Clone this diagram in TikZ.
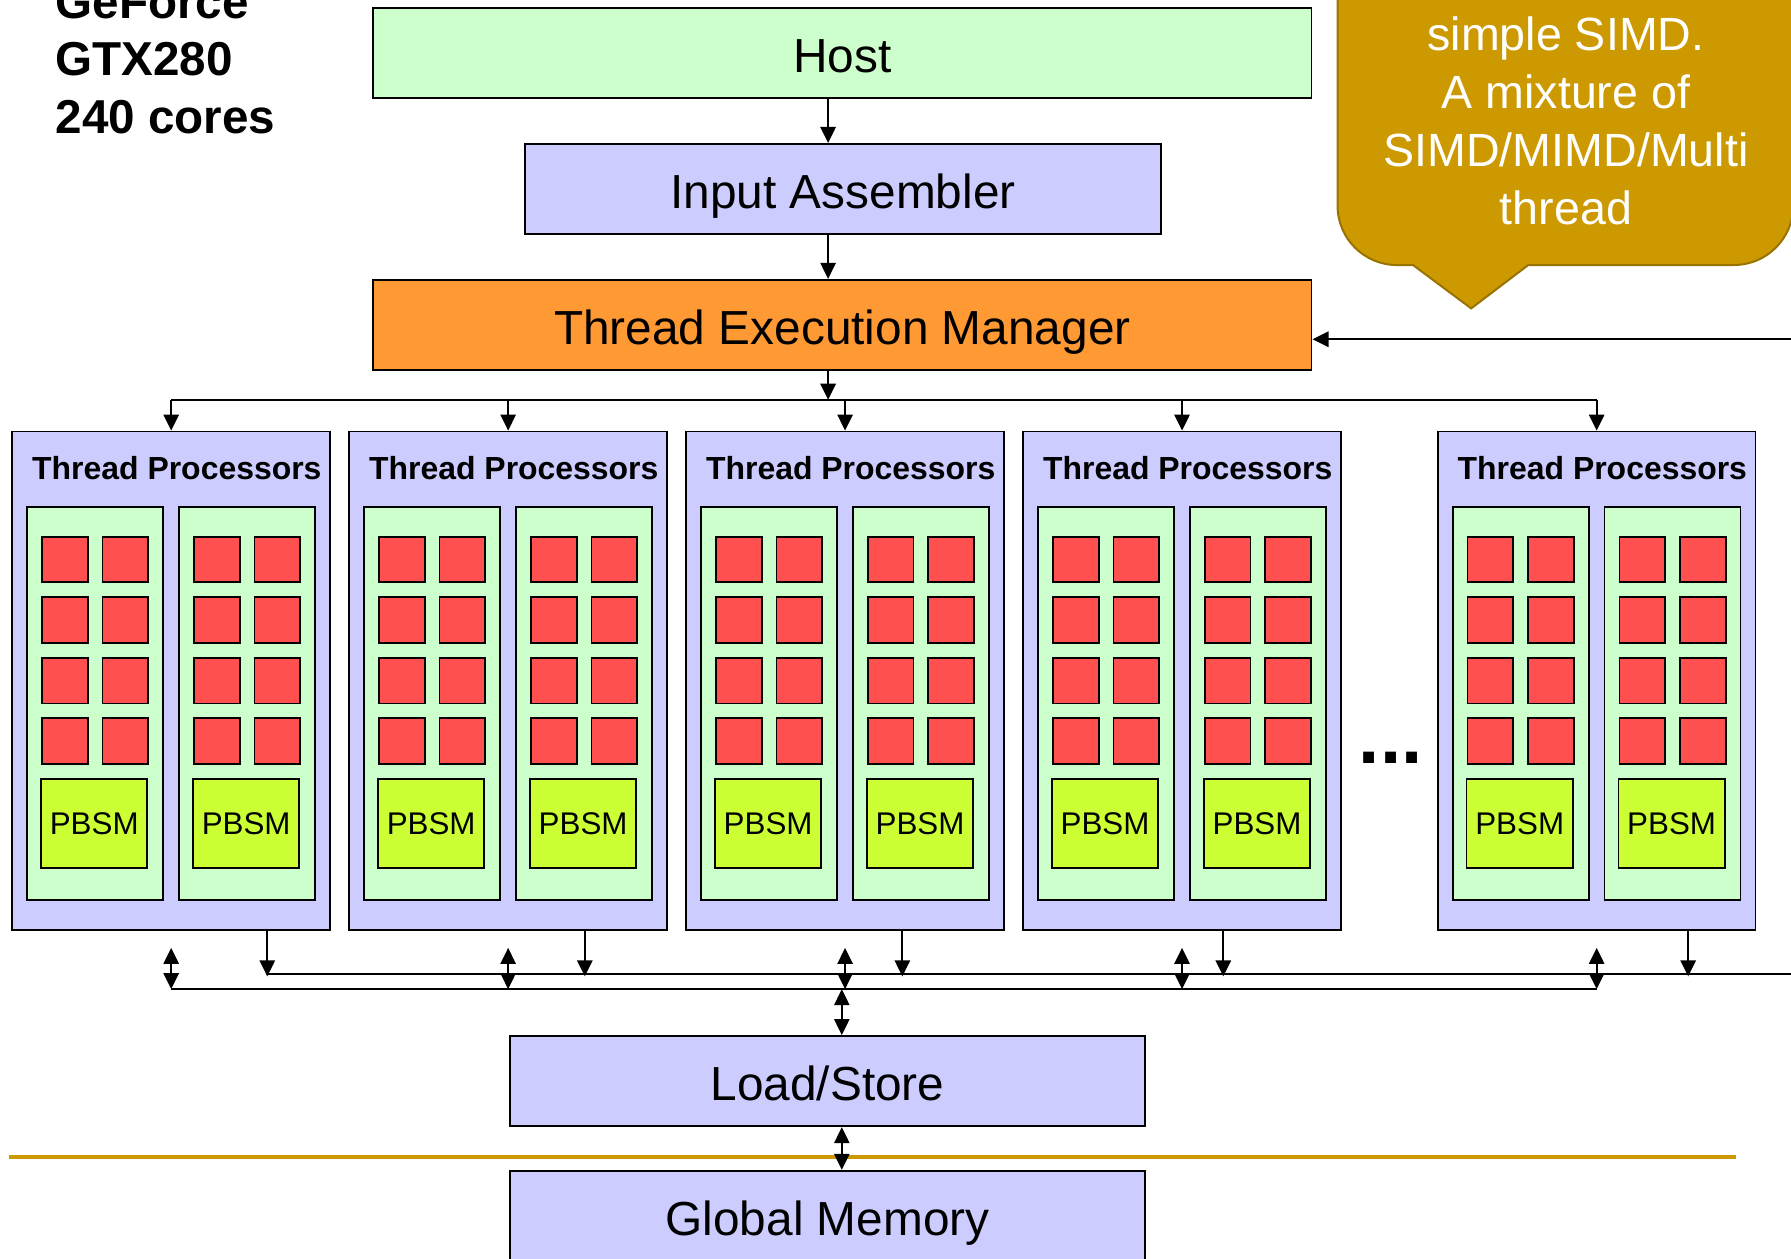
\documentclass[tikz,border=0pt]{standalone}
\usepackage{fontspec}
\setmainfont{Liberation Sans}
\usetikzlibrary{arrows.meta, positioning, calc}

\definecolor{hostgreen}{HTML}{CCFFCC}
\definecolor{unitblue}{HTML}{CCCCFF}
\definecolor{temorange}{HTML}{FF9933}
\definecolor{corered}{HTML}{FF5050}
\definecolor{pbsmlime}{HTML}{CCFF33}
\definecolor{notegold}{HTML}{CC9900}

\begin{document}
\begin{tikzpicture}[
    x=0.01cm, y=-0.01cm,
    unitbox/.style={draw, line width=0.45pt, minimum height=0.79cm, inner sep=0pt, text height=0.34cm, text depth=0cm, font=\fontsize{11.9}{14}\selectfont},
    tpbox/.style={draw, line width=0.45pt, fill=unitblue, minimum width=2.78cm, minimum height=4.36cm, anchor=north west, inner sep=0pt},
    smbox/.style={draw, line width=0.45pt, fill=hostgreen, minimum width=1.19cm, minimum height=3.44cm, anchor=north west, inner sep=0pt},
    corebox/.style={draw, line width=0.45pt, fill=corered, minimum size=0.40cm, anchor=north west, inner sep=0pt},
    pbsmbox/.style={draw, line width=0.45pt, fill=pbsmlime, minimum width=0.93cm, minimum height=0.78cm, inner sep=0pt, font=\fontsize{7.8}{9}\selectfont},
    tplabel/.style={anchor=base west, inner sep=0pt, font=\fontsize{7.95}{9}\selectfont\bfseries},
    gpulabel/.style={anchor=base west, inner sep=0pt, font=\fontsize{11.85}{14}\selectfont\bfseries},
    arrow/.style={-{Triangle[length=4pt, width=3.8pt]}, line width=0.5pt},
    dblarrow/.style={{Triangle[length=4pt, width=3.8pt]}-{Triangle[length=4pt, width=3.8pt]}, line width=0.5pt},
    bus/.style={line width=0.5pt},
    goldline/.style={draw=notegold, line width=1pt},
    callout/.style={fill=notegold, draw=notegold!75!black, line width=0.5pt}
]
\useasboundingbox (0,0) rectangle (1568,1102);
\clip (0,0) rectangle (1568,1102);

% GPU name
\node[gpulabel] (gpu1) at (48,16) {GeForce};
\node[gpulabel] (gpu2) at (48,66) {GTX280};
\node[gpulabel] (gpu3) at (48,116.5) {240 cores};

% front end
\node[unitbox, fill=hostgreen, minimum width=8.21cm] (host) at (737.5,46.5) {Host};
\node[unitbox, fill=unitblue, minimum width=5.56cm] (ia) at (738,165.5) {Input Assembler};
\node[unitbox, fill=temorange, minimum width=8.21cm] (tem) at (737.5,284.5) {Thread Execution Manager};

% note
\draw[callout] (1171,-80) -- (1171,180) arc[start angle=180, end angle=270, radius=0.52cm]
    -- (1237,232) -- (1288,270) -- (1338,232) -- (1518,232)
    arc[start angle=270, end angle=360, radius=0.52cm] -- (1570,-80) -- cycle;
\node[text=white, align=center, font=\fontsize{11.6}{14.4}\selectfont] (note) at (1371,106)
    {simple SIMD.\\A mixture of\\SIMD/MIMD/Multi\\thread};

% thread processor clusters
\foreach \cx [count=\i] in {10,305,600,895,1258} {
  \node[tpbox] (tp\i) at (\cx,377) {};
  \node[tplabel] (tpl\i) at (\cx+17.5,420) {Thread Processors};
  \foreach \gx [count=\j] in {13,146} {
    \node[smbox] (sm\i\j) at (\cx+\gx,443) {};
    \foreach \r in {0,...,3}
      \foreach \c in {0,1}
        \node[corebox] (core\i\j\r\c) at (\cx+\gx+13+53*\c,469+53*\r) {};
    \node[pbsmbox] (pbsm\i\j) at (\cx+\gx+59.5,721) {PBSM};
  }
}
\node[anchor=base west, inner sep=0pt, font=\fontsize{19}{20}\selectfont\bfseries] (more) at (1189,668) {...};

% memory side
\node[unitbox, fill=unitblue, minimum width=5.55cm] (ls) at (724.5,946.5) {Load/Store};
\node[unitbox, fill=unitblue, minimum width=5.55cm] (gm) at (724.5,1064.5) {Global Memory};
\draw[goldline] (8,1013) -- (1520,1013);

% control path
\coordinate (spine) at (725,0);
\coordinate (dist) at (0,350);
\draw[arrow] (host.south -| spine) -- (ia.north -| spine);
\draw[arrow] (ia.south -| spine) -- (tem.north -| spine);
\draw[arrow] (tem.south -| spine) -- (spine |- dist);
\draw[bus] (tp1.north |- dist) -- (tp5.north |- dist);
\foreach \i in {1,...,5}
  \draw[arrow] (tp\i.north |- dist) -- (tp\i.north);

% data buses
\coordinate (busLow) at (0,866);
\coordinate (busHighL) at (234,853);
\coordinate (busHighR) at (1570,853);
\draw[bus] (busHighL) -- (busHighR);
\draw[bus] (tp1.south |- busLow) -- (tp5.south |- busLow);
\foreach \dx [count=\i] in {224,207,190,176,220}
  \draw[arrow] ([xshift=\dx*0.01cm]tp\i.south west) -- ++(0,40);
\foreach \i in {1,...,5}
  \draw[dblarrow] ([yshift=-0.15cm]tp\i.south) -- (tp\i.south |- busLow);

\coordinate (lsx) at (737,866);
\draw[dblarrow] (lsx) -- (lsx |- ls.north);
\draw[dblarrow] (lsx |- ls.south) -- (lsx |- gm.north);

% feedback
\coordinate (fbin) at (1570,297);
\draw[arrow] (fbin) -- (fbin -| tem.east);

\end{tikzpicture}
\end{document}
